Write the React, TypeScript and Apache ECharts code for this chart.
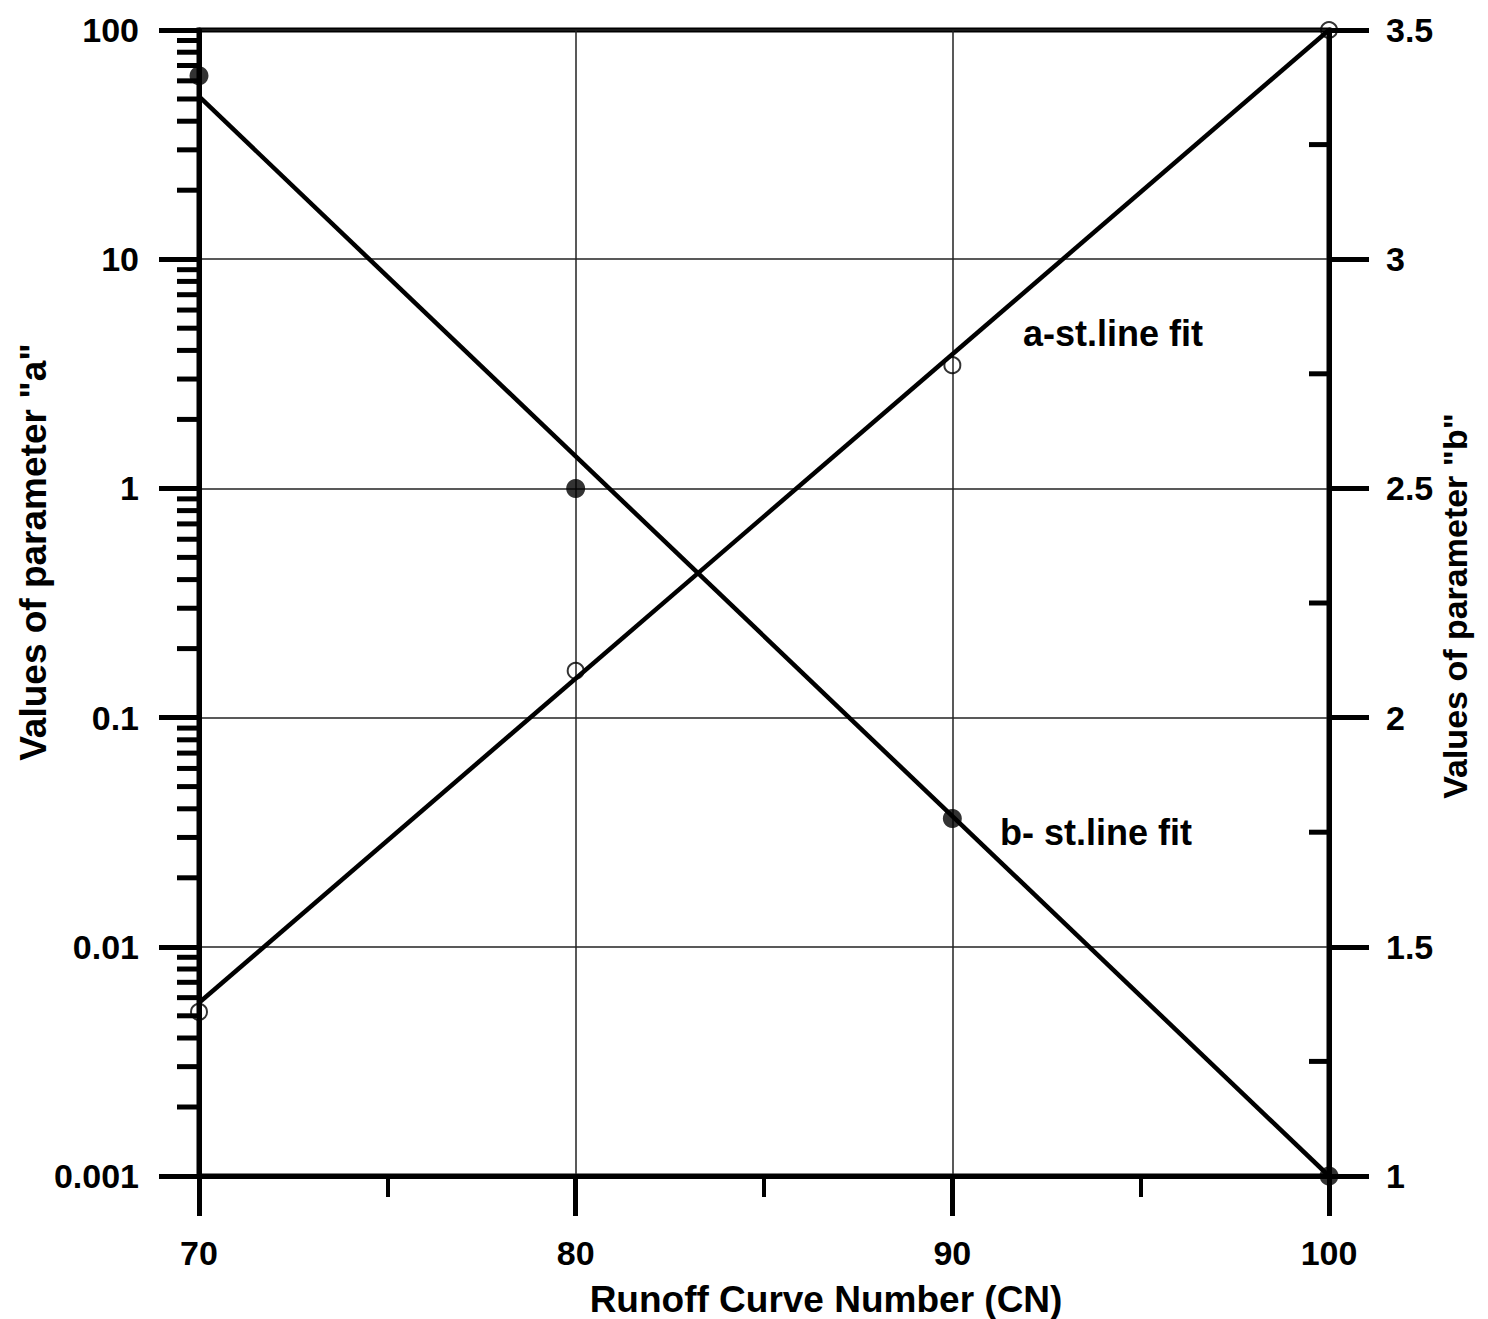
import React, { useEffect, useRef } from "react";
import * as echarts from "echarts";

// ---- data ----
const cnPoints = [70, 80, 90, 100];
const aValues = [0.0052, 0.16, 3.45, 100]; // open circles, left log axis
const bValues = [3.4, 2.5, 1.78, 1.0]; // filled circles, right axis
const fitCN = [70, 100];
const aFitValues = [0.0057, 100]; // a straight-line fit (log scale)
const bFitValues = [3.355, 1.0]; // b straight-line fit

const leftTickLabels = ["0.001", "0.01", "0.1", "1", "10", "100"];
const rightTickLabels = ["1", "1.5", "2", "2.5", "3", "3.5"];
const xTickLabels = ["70", "80", "90", "100"];
const logDecades = [0.001, 0.01, 0.1, 1, 10];
const logMultipliers = [2, 3, 4, 5, 6, 7, 8, 9];
const rightMinorTicks = [1.25, 1.75, 2.25, 2.75, 3.25];

const FONT = '"Liberation Sans", Arial, Helvetica, sans-serif';

export default function App() {
  const ref = useRef<HTMLDivElement>(null);

  useEffect(() => {
    if (!ref.current) return;
    const chart = echarts.init(ref.current, undefined, { renderer: "svg" });

    const leftMinorTicks = logDecades.flatMap((d) => logMultipliers.map((m) => +(d * m).toPrecision(3)));

    const labelStyle = {
      color: "#000",
      fontSize: 34,
      fontWeight: "bold" as const,
      fontFamily: FONT,
    };

    const option: any = {
      animation: false,
      backgroundColor: "#fff",
      grid: {
        left: 199,
        right: 159,
        top: 30,
        bottom: 143,
        show: true,
        borderColor: "#000",
        borderWidth: 5,
        backgroundColor: "transparent",
        containLabel: false,
        outerBoundsMode: "none",
      },
      xAxis: {
        type: "value",
        min: 70,
        max: 100,
        interval: 10,
        axisLine: { show: true, onZero: false, lineStyle: { color: "#000", width: 5 } },
        axisTick: { show: true, length: 40, lineStyle: { color: "#000", width: 5 } },
        minorTick: { show: true, splitNumber: 2, length: 21, lineStyle: { color: "#000", width: 4 } },
        splitLine: { show: true, lineStyle: { color: "#222", width: 1.5 } },
        axisLabel: {
          ...labelStyle,
          margin: 60,
          formatter: (v: number) => xTickLabels[Math.round((v - 70) / 10)] ?? String(v),
        },
      },
      yAxis: [
        {
          type: "log",
          logBase: 10,
          min: 0.001,
          max: 100,
          position: "left",
          axisLine: { show: true, onZero: false, lineStyle: { color: "#000", width: 5 } },
          axisTick: { show: true, length: 40, lineStyle: { color: "#000", width: 5 } },
          splitLine: { show: true, lineStyle: { color: "#222", width: 1.5 } },
          axisLabel: {
            ...labelStyle,
            margin: 60,
            formatter: (v: number) => leftTickLabels[Math.round(Math.log10(v)) + 3] ?? String(v),
          },
        },
        {
          type: "value",
          min: 1,
          max: 3.5,
          interval: 0.5,
          position: "right",
          axisLine: { show: true, onZero: false, lineStyle: { color: "#000", width: 5 } },
          axisTick: { show: true, length: 40, lineStyle: { color: "#000", width: 5 } },
          splitLine: { show: false },
          axisLabel: {
            ...labelStyle,
            margin: 57,
            formatter: (v: number) => rightTickLabels[Math.round((v - 1) / 0.5)] ?? String(v),
          },
        },
      ],
      graphic: [
        {
          type: "text",
          x: 33,
          y: 552,
          rotation: Math.PI / 2,
          style: {
            text: 'Values of parameter "a"',
            font: `bold 37px ${FONT}`,
            fill: "#000",
            align: "center",
            verticalAlign: "middle",
            textAlign: "center",
            textVerticalAlign: "middle",
          },
        },
        {
          type: "text",
          x: 1455,
          y: 606,
          rotation: Math.PI / 2,
          style: {
            text: 'Values of parameter "b"',
            font: `bold 34px ${FONT}`,
            fill: "#000",
            align: "center",
            verticalAlign: "middle",
            textAlign: "center",
            textVerticalAlign: "middle",
          },
        },
        {
          type: "text",
          x: 826,
          y: 1299,
          style: {
            text: "Runoff Curve Number (CN)",
            font: `bold 37px ${FONT}`,
            fill: "#000",
            align: "center",
            verticalAlign: "middle",
            textAlign: "center",
            textVerticalAlign: "middle",
          },
        },
        {
          type: "text",
          x: 1023,
          y: 333,
          style: {
            text: "a-st.line fit",
            font: `bold 36px ${FONT}`,
            fill: "#000",
            align: "left",
            verticalAlign: "middle",
            textAlign: "left",
            textVerticalAlign: "middle",
          },
        },
        {
          type: "text",
          x: 1000,
          y: 832,
          style: {
            text: "b- st.line fit",
            font: `bold 36px ${FONT}`,
            fill: "#000",
            align: "left",
            verticalAlign: "middle",
            textAlign: "left",
            textVerticalAlign: "middle",
          },
        },
      ],
      series: [
        {
          name: "a minor ticks",
          type: "custom",
          xAxisIndex: 0,
          yAxisIndex: 0,
          silent: true,
          clip: false,
          z: 5,
          data: leftMinorTicks.map((v) => [70, v]),
          renderItem: (params: any, api: any) => {
            const p = api.coord([api.value(0), api.value(1)]);
            return {
              type: "line",
              shape: { x1: p[0] - 22, y1: p[1], x2: p[0], y2: p[1] },
              style: { stroke: "#000", lineWidth: 5 },
            };
          },
        },
        {
          name: "b minor ticks",
          type: "custom",
          xAxisIndex: 0,
          yAxisIndex: 1,
          silent: true,
          clip: false,
          z: 5,
          data: rightMinorTicks.map((v) => [100, v]),
          renderItem: (params: any, api: any) => {
            const p = api.coord([api.value(0), api.value(1)]);
            return {
              type: "line",
              shape: { x1: p[0] - 20, y1: p[1], x2: p[0], y2: p[1] },
              style: { stroke: "#000", lineWidth: 5 },
            };
          },
        },
        {
          name: "a-st.line fit",
          type: "line",
          xAxisIndex: 0,
          yAxisIndex: 0,
          showSymbol: false,
          symbol: "none",
          lineStyle: { color: "#000", width: 4.5 },
          data: fitCN.map((x, i) => [x, aFitValues[i]]),
          z: 6,
        },
        {
          name: "b- st.line fit",
          type: "line",
          xAxisIndex: 0,
          yAxisIndex: 1,
          showSymbol: false,
          symbol: "none",
          lineStyle: { color: "#000", width: 4.5 },
          data: fitCN.map((x, i) => [x, bFitValues[i]]),
          z: 6,
        },
        {
          name: "a",
          type: "scatter",
          xAxisIndex: 0,
          yAxisIndex: 0,
          symbol: "circle",
          symbolSize: 16,
          clip: false,
          itemStyle: { color: "rgba(0,0,0,0)", borderColor: "#000", borderWidth: 2 },
          data: cnPoints.map((x, i) => [x, aValues[i]]),
          z: 7,
        },
        {
          name: "b",
          type: "scatter",
          xAxisIndex: 0,
          yAxisIndex: 1,
          symbol: "circle",
          symbolSize: 19,
          clip: false,
          itemStyle: { color: "#000", borderWidth: 0 },
          data: cnPoints.map((x, i) => [x, bValues[i]]),
          z: 7,
        },
      ],
    };

    chart.setOption(option);
    return () => {
      chart.dispose();
    };
  }, []);

  return (
    <div
      ref={ref}
      style={{ position: "fixed", left: 0, top: 0, width: 1488, height: 1319, background: "#fff" }}
    />
  );
}
